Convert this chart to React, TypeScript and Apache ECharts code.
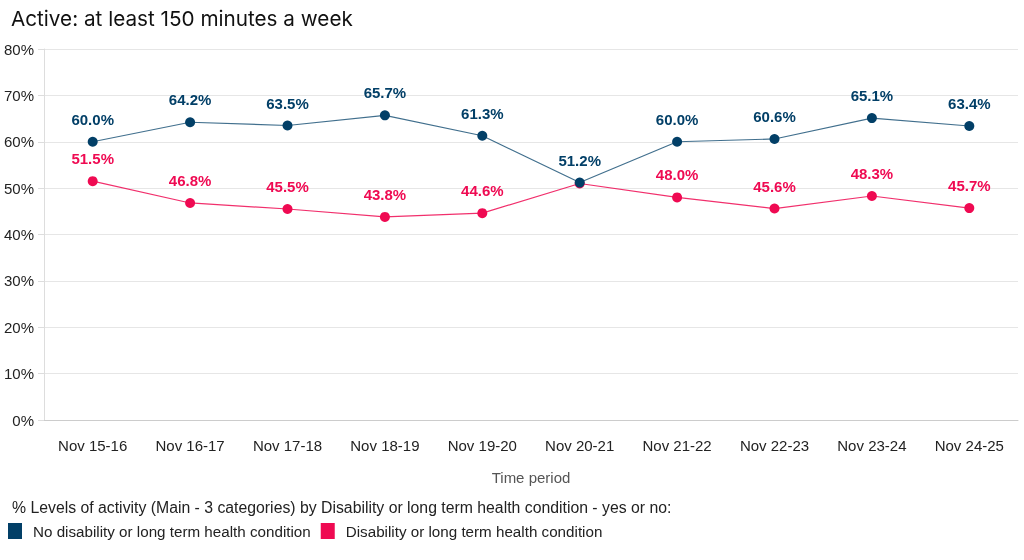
import React, { useEffect, useRef } from "react";
import * as echarts from "echarts";

const categories = ["Nov 15-16", "Nov 16-17", "Nov 17-18", "Nov 18-19", "Nov 19-20", "Nov 20-21", "Nov 21-22", "Nov 22-23", "Nov 23-24", "Nov 24-25"];
const noDisability = [60.0, 64.2, 63.5, 65.7, 61.3, 51.2, 60.0, 60.6, 65.1, 63.4];
const disability = [51.5, 46.8, 45.5, 43.8, 44.6, 51.0, 48.0, 45.6, 48.3, 45.7];
const hiddenRedLabels = [5];

const BLUE = "#023f67";
const RED = "#ef0a52";

export default function App() {
  const ref = useRef<HTMLDivElement>(null);
  useEffect(() => {
    if (!ref.current) return;
    const chart = echarts.init(ref.current, null, { renderer: "svg" });
    const labelFont = { fontFamily: "Liberation Sans, Arial, sans-serif", fontWeight: "bold" as const, fontSize: 15 };
    chart.setOption({
      animation: false,
      textStyle: { fontFamily: "Liberation Sans, Arial, sans-serif" },
      title: {
        text: "Active: at least 150 minutes a week",
        left: 6,
        top: 3,
        textStyle: { fontFamily: "Inter, Noto Sans, sans-serif", fontSize: 20.7, fontWeight: "normal", color: "#111" },
      },
      graphic: [
        {
          type: "text",
          left: 12,
          top: 499,
          style: {
            text: "% Levels of activity (Main - 3 categories) by Disability or long term health condition - yes or no:",
            fontFamily: "Liberation Sans, Arial, sans-serif",
            fontSize: 15.8,
            fill: "#222",
          },
        },
      ],
      legend: {
        left: 3,
        top: 518,
        padding: 5,
        itemWidth: 14,
        itemHeight: 16,
        itemGap: 10,
        icon: "rect",
        textStyle: { fontSize: 15.2, color: "#222", padding: [0, 0, 0, 6] },
        data: ["No disability or long term health condition", "Disability or long term health condition"],
      },
      grid: { left: 44, right: 6, top: 49, bottom: 140 },
      xAxis: {
        type: "category",
        data: categories,
        boundaryGap: true,
        name: "Time period",
        nameLocation: "middle",
        nameGap: 50,
        nameTextStyle: { fontSize: 15, color: "#555" },
        axisLine: { lineStyle: { color: "#ccc" } },
        axisTick: { alignWithLabel: true, length: 6, lineStyle: { color: "#ccc" } },
        axisLabel: { fontSize: 15, color: "#222", margin: 18 },
      },
      yAxis: {
        type: "value",
        min: 0,
        max: 80,
        interval: 10,
        axisLine: { show: true, lineStyle: { color: "#ddd" } },
        axisTick: { show: true, length: 6, lineStyle: { color: "#ddd" } },
        splitLine: { lineStyle: { color: "#e6e6e6" } },
        axisLabel: { fontSize: 15, color: "#222", formatter: "{value}%", margin: 10 },
      },
      series: [
        {
          name: "Disability or long term health condition",
          type: "line",
          data: disability.map((v, i) => (hiddenRedLabels.includes(i) ? { value: v, label: { show: false } } : v)),
          symbol: "circle",
          symbolSize: 10,
          itemStyle: { color: RED },
          lineStyle: { color: RED, width: 1.2, opacity: 0.85 },
          label: { show: true, position: "top", distance: 10, color: RED, formatter: (p: any) => p.value.toFixed(1) + "%", ...labelFont },
          z: 2,
        },
        {
          name: "No disability or long term health condition",
          type: "line",
          data: noDisability,
          symbol: "circle",
          symbolSize: 10,
          itemStyle: { color: BLUE },
          lineStyle: { color: BLUE, width: 1.2, opacity: 0.75 },
          label: { show: true, position: "top", distance: 10, color: BLUE, formatter: (p: any) => p.value.toFixed(1) + "%", ...labelFont },
          z: 3,
        },
      ],
    });
    return () => chart.dispose();
  }, []);
  return <div ref={ref} style={{ position: "fixed", left: 0, top: 0, width: 1024, height: 560 }} />;
}
